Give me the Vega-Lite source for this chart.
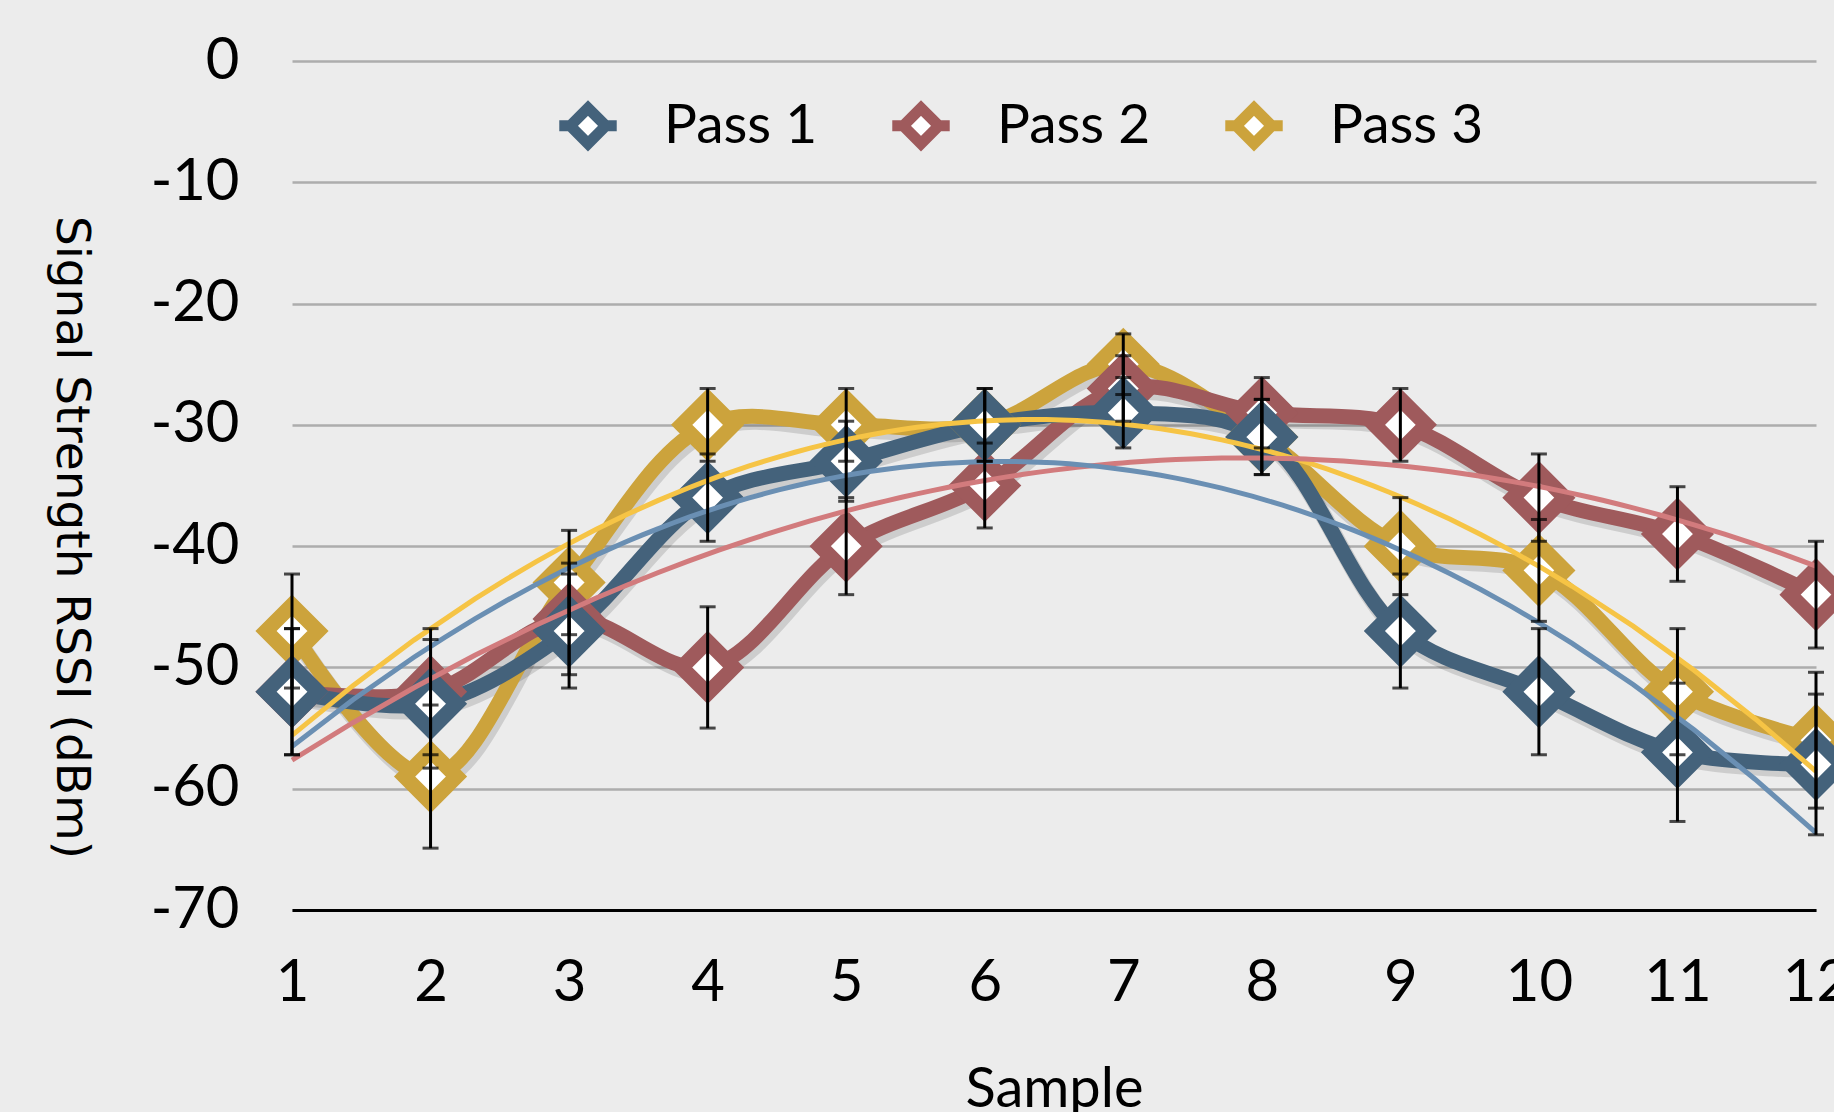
{
  "$schema": "https://vega.github.io/schema/vega-lite/v6.json",
  "width": 1524,
  "height": 849,
  "autosize": {"type": "none"},
  "padding": {"left": 292, "top": 61, "right": 18, "bottom": 202},
  "background": "#ECECEC",
  "config": {
    "view": {"stroke": null},
    "font": "Lato"
  },
  "data": {
    "values": [
      {"sample": 1, "pass": "Pass 3", "rssi": -47, "lo": -51.7, "hi": -42.3},
      {"sample": 2, "pass": "Pass 3", "rssi": -59, "lo": -64.9, "hi": -53.1},
      {"sample": 3, "pass": "Pass 3", "rssi": -43, "lo": -47.3, "hi": -38.7},
      {"sample": 4, "pass": "Pass 3", "rssi": -30, "lo": -33, "hi": -27},
      {"sample": 5, "pass": "Pass 3", "rssi": -30, "lo": -33, "hi": -27},
      {"sample": 6, "pass": "Pass 3", "rssi": -30, "lo": -33, "hi": -27},
      {"sample": 7, "pass": "Pass 3", "rssi": -25, "lo": -27.5, "hi": -22.5},
      {"sample": 8, "pass": "Pass 3", "rssi": -31, "lo": -34.1, "hi": -27.9},
      {"sample": 9, "pass": "Pass 3", "rssi": -40, "lo": -44, "hi": -36},
      {"sample": 10, "pass": "Pass 3", "rssi": -42, "lo": -46.2, "hi": -37.8},
      {"sample": 11, "pass": "Pass 3", "rssi": -52, "lo": -57.2, "hi": -46.8},
      {"sample": 12, "pass": "Pass 3", "rssi": -56, "lo": -61.6, "hi": -50.4},
      {"sample": 1, "pass": "Pass 2", "rssi": -52, "lo": -57.2, "hi": -46.8},
      {"sample": 2, "pass": "Pass 2", "rssi": -52, "lo": -57.2, "hi": -46.8},
      {"sample": 3, "pass": "Pass 2", "rssi": -46, "lo": -50.6, "hi": -41.4},
      {"sample": 4, "pass": "Pass 2", "rssi": -50, "lo": -55, "hi": -45},
      {"sample": 5, "pass": "Pass 2", "rssi": -40, "lo": -44, "hi": -36},
      {"sample": 6, "pass": "Pass 2", "rssi": -35, "lo": -38.5, "hi": -31.5},
      {"sample": 7, "pass": "Pass 2", "rssi": -27, "lo": -29.7, "hi": -24.3},
      {"sample": 8, "pass": "Pass 2", "rssi": -29, "lo": -31.9, "hi": -26.1},
      {"sample": 9, "pass": "Pass 2", "rssi": -30, "lo": -33, "hi": -27},
      {"sample": 10, "pass": "Pass 2", "rssi": -36, "lo": -39.6, "hi": -32.4},
      {"sample": 11, "pass": "Pass 2", "rssi": -39, "lo": -42.9, "hi": -35.1},
      {"sample": 12, "pass": "Pass 2", "rssi": -44, "lo": -48.4, "hi": -39.6},
      {"sample": 1, "pass": "Pass 1", "rssi": -52, "lo": -57.2, "hi": -46.8},
      {"sample": 2, "pass": "Pass 1", "rssi": -53, "lo": -58.3, "hi": -47.7},
      {"sample": 3, "pass": "Pass 1", "rssi": -47, "lo": -51.7, "hi": -42.3},
      {"sample": 4, "pass": "Pass 1", "rssi": -36, "lo": -39.6, "hi": -32.4},
      {"sample": 5, "pass": "Pass 1", "rssi": -33, "lo": -36.3, "hi": -29.7},
      {"sample": 6, "pass": "Pass 1", "rssi": -30, "lo": -33, "hi": -27},
      {"sample": 7, "pass": "Pass 1", "rssi": -29, "lo": -31.9, "hi": -26.1},
      {"sample": 8, "pass": "Pass 1", "rssi": -31, "lo": -34.1, "hi": -27.9},
      {"sample": 9, "pass": "Pass 1", "rssi": -47, "lo": -51.7, "hi": -42.3},
      {"sample": 10, "pass": "Pass 1", "rssi": -52, "lo": -57.2, "hi": -46.8},
      {"sample": 11, "pass": "Pass 1", "rssi": -57, "lo": -62.7, "hi": -51.3},
      {"sample": 12, "pass": "Pass 1", "rssi": -58, "lo": -63.8, "hi": -52.2}
    ]
  },
  "encoding": {
    "x": {
      "field": "sample",
      "type": "quantitative",
      "scale": {"domain": [1, 12], "nice": false, "zero": false},
      "axis": {
        "values": [1, 2, 3, 4, 5, 6, 7, 8, 9, 10, 11, 12],
        "grid": false,
        "ticks": false,
        "tickSize": 0,
        "domainColor": "black",
        "domainWidth": 3,
        "labelFont": "Lato",
        "labelFontSize": 58,
        "labelColor": "black",
        "labelPadding": 90,
        "labelBaseline": "alphabetic",
        "labelFlush": false,
        "labelOverlap": false,
        "title": "Sample",
        "titleFont": "Lato",
        "titleFontSize": 56,
        "titleFontWeight": "normal",
        "titleColor": "black",
        "titleBaseline": "alphabetic",
        "titleY": 196
      }
    },
    "y": {
      "field": "rssi",
      "type": "quantitative",
      "scale": {"domain": [-70, 0], "nice": false, "zero": false},
      "axis": {
        "values": [-70, -60, -50, -40, -30, -20, -10, 0],
        "grid": true,
        "gridColor": "#ADADAD",
        "gridWidth": 2.5,
        "domain": false,
        "ticks": false,
        "tickSize": 0,
        "labelFont": "Lato",
        "labelFontSize": 58,
        "labelColor": "black",
        "labelPadding": 53,
        "labelExpr": "'' + datum.value",
        "title": "Signal Strength RSSI (dBm)",
        "titleFont": "DejaVu Sans",
        "titleFontSize": 47,
        "titleFontWeight": "normal",
        "titleColor": "black",
        "titleAngle": 90,
        "titleAlign": "center",
        "titleBaseline": "middle",
        "titleX": -222,
        "titleY": 476
      }
    }
  },
  "layer": [
    {
      "mark": {"type": "line", "interpolate": "catmull-rom", "color": "black", "opacity": 0.13, "strokeWidth": 17, "xOffset": 3, "yOffset": 5},
      "encoding": {"detail": {"field": "pass"}}
    },
    {
      "mark": {"type": "line", "interpolate": "catmull-rom", "strokeWidth": 15, "strokeJoin": "round"},
      "encoding": {
        "color": {
          "field": "pass",
          "type": "nominal",
          "scale": {"domain": ["Pass 1", "Pass 2", "Pass 3"], "range": ["#44627B", "#9F5A5C", "#CCA33C"]},
          "legend": {
            "orient": "none",
            "legendX": 261.5,
            "legendY": 30,
            "direction": "horizontal",
            "columns": 3,
            "gridAlign": "all",
            "columnPadding": 52,
            "labelFont": "Lato",
            "labelFontSize": 55,
            "labelColor": "black",
            "labelOffset": 41.5,
            "labelLimit": 400,
            "symbolType": "M-1,0H-0.62M0.62,0H1M-0.62,0L0,-0.62L0.62,0L0,0.62Z",
            "symbolSize": 3300,
            "symbolStrokeWidth": 11,
            "symbolFillColor": "white",
            "title": null
          }
        }
      }
    },
    {
      "mark": {"type": "point", "shape": "diamond", "size": 2700, "strokeWidth": 15, "filled": false, "fill": "white", "fillOpacity": 1, "opacity": 1},
      "encoding": {
        "color": {
          "field": "pass",
          "type": "nominal",
          "scale": {"domain": ["Pass 1", "Pass 2", "Pass 3"], "range": ["#44627B", "#9F5A5C", "#CCA33C"]},
          "legend": {
            "orient": "none",
            "legendX": 261.5,
            "legendY": 30,
            "direction": "horizontal",
            "columns": 3,
            "gridAlign": "all",
            "columnPadding": 52,
            "labelFont": "Lato",
            "labelFontSize": 55,
            "labelColor": "black",
            "labelOffset": 41.5,
            "labelLimit": 400,
            "symbolType": "M-1,0H-0.62M0.62,0H1M-0.62,0L0,-0.62L0.62,0L0,0.62Z",
            "symbolSize": 3300,
            "symbolStrokeWidth": 11,
            "symbolFillColor": "white",
            "title": null
          }
        }
      }
    },
    {
      "transform": [
        {"filter": "datum.pass === 'Pass 3'"},
        {"regression": "rssi", "on": "sample", "method": "poly", "order": 2, "extent": [1, 12]}
      ],
      "mark": {"type": "line", "strokeWidth": 5, "color": "#F6C445"}
    },
    {
      "transform": [
        {"filter": "datum.pass === 'Pass 2'"},
        {"regression": "rssi", "on": "sample", "method": "poly", "order": 2, "extent": [1, 12]}
      ],
      "mark": {"type": "line", "strokeWidth": 5, "color": "#D27B7D"}
    },
    {
      "transform": [
        {"filter": "datum.pass === 'Pass 1'"},
        {"regression": "rssi", "on": "sample", "method": "poly", "order": 2, "extent": [1, 12]}
      ],
      "mark": {"type": "line", "strokeWidth": 5, "color": "#6A8FB3"}
    },
    {
      "mark": {
        "type": "errorbar",
        "ticks": {"size": 16, "thickness": 3, "color": "black"},
        "rule": {"strokeWidth": 3, "color": "black"}
      },
      "encoding": {
        "y": {"field": "lo", "type": "quantitative", "title": "Signal Strength RSSI (dBm)"},
        "y2": {"field": "hi"}
      }
    }
  ]
}
